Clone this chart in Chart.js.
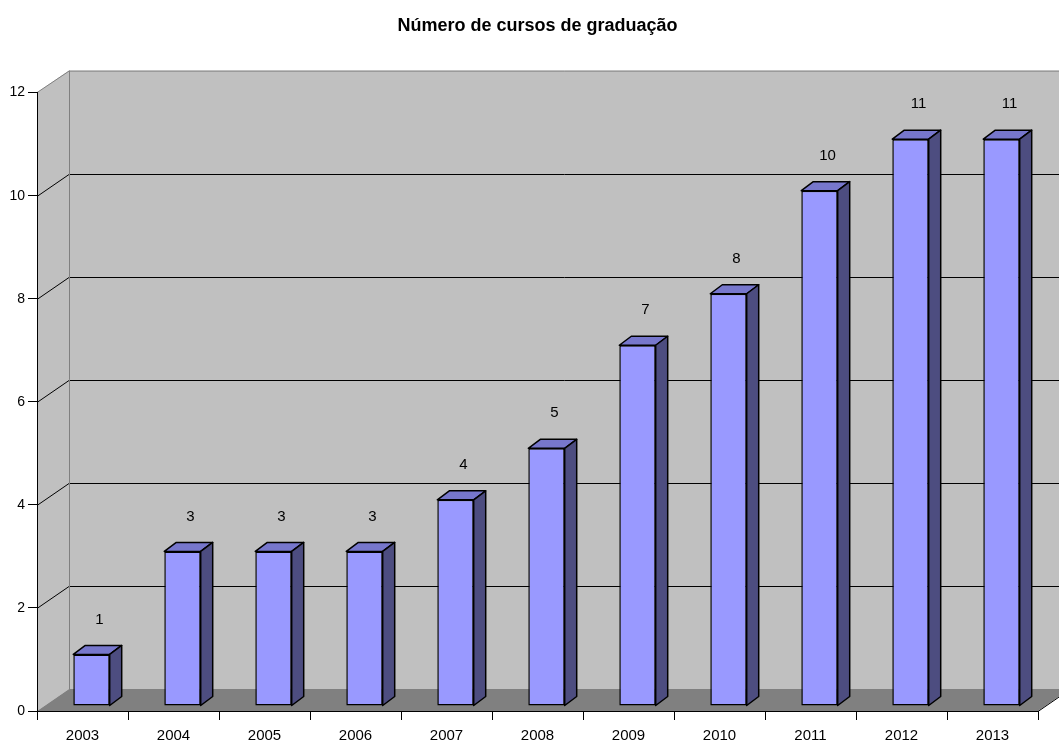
<!DOCTYPE html>
<html>
<head>
<meta charset="utf-8">
<script src="https://cdn.jsdelivr.net/npm/chart.js@4"></script>
<style>
  html, body { margin: 0; padding: 0; background: #fff; }
</style>
</head>
<body>
<canvas id="cursosChart" width="1059" height="743"></canvas>
<script>
// Dados do gráfico
const anos = ["2003", "2004", "2005", "2006", "2007", "2008", "2009", "2010", "2011", "2012", "2013"];
const cursos = [1, 3, 3, 3, 4, 5, 7, 8, 10, 11, 11];
const yTicks = [0, 2, 4, 6, 8, 10, 12];

const FONT = "'Liberation Sans', Arial, sans-serif";

// Paredes e chão em perspectiva (estilo 3D)
const wall3d = {
  id: "wall3d",
  beforeDraw(chart) {
    const { ctx, chartArea: a, scales } = chart;
    const dx = 32, dy = -22;
    ctx.save();

    // parede do fundo
    ctx.fillStyle = "#c0c0c0";
    ctx.fillRect(a.left + dx, a.top + dy, a.right - a.left, a.bottom - a.top);

    // parede lateral
    ctx.beginPath();
    ctx.moveTo(a.left, a.top);
    ctx.lineTo(a.left + dx, a.top + dy);
    ctx.lineTo(a.left + dx, a.bottom + dy);
    ctx.lineTo(a.left, a.bottom);
    ctx.closePath();
    ctx.fill();

    // chão
    ctx.fillStyle = "#808080";
    ctx.beginPath();
    ctx.moveTo(a.left, a.bottom);
    ctx.lineTo(a.left + dx, a.bottom + dy);
    ctx.lineTo(a.right + dx, a.bottom + dy);
    ctx.lineTo(a.right, a.bottom);
    ctx.closePath();
    ctx.fill();

    // linhas de grade
    ctx.lineWidth = 1;
    ctx.strokeStyle = "#000";
    yTicks.forEach((v) => {
      if (v === yTicks[0] || v === yTicks[yTicks.length - 1]) return;
      const py = Math.round(scales.y.getPixelForValue(v)) + 0.5;
      ctx.beginPath();
      ctx.moveTo(a.left, py);
      ctx.lineTo(a.left + dx, py + dy);
      ctx.lineTo(a.right + dx, py + dy);
      ctx.stroke();
    });

    // bordas cinzas
    ctx.strokeStyle = "#808080";
    ctx.beginPath();
    ctx.moveTo(a.left + dx + 0.5, a.bottom + dy);
    ctx.lineTo(a.left + dx + 0.5, a.top + dy);
    ctx.moveTo(a.left, a.top);
    ctx.lineTo(a.left + dx, a.top + dy + 0.5);
    ctx.lineTo(a.right + dx, a.top + dy + 0.5);
    ctx.stroke();

    // borda direita do chão
    ctx.strokeStyle = "#000";
    ctx.beginPath();
    ctx.moveTo(a.right, a.bottom + 0.5);
    ctx.lineTo(a.right + dx, a.bottom + dy + 0.5);
    ctx.stroke();
    ctx.restore();
  },
};

// Barras com profundidade
const bars3d = {
  id: "bars3d",
  beforeDatasetsDraw(chart) {
    const ctx = chart.ctx;
    const bdx = 12, bdy = -9;
    ctx.save();
    ctx.translate(9, -5);
    ctx.lineWidth = 1.5;
    ctx.lineJoin = "round";
    ctx.strokeStyle = "#000";
    chart.getDatasetMeta(0).data.forEach((bar) => {
      const L = bar.x - bar.width / 2;
      const R = bar.x + bar.width / 2;
      const T = bar.y;
      const B = bar.base;
      // topo
      ctx.fillStyle = "#7777cc";
      ctx.beginPath();
      ctx.moveTo(L, T);
      ctx.lineTo(L + bdx, T + bdy);
      ctx.lineTo(R + bdx, T + bdy);
      ctx.lineTo(R, T);
      ctx.closePath();
      ctx.fill();
      ctx.stroke();
      // lado
      ctx.fillStyle = "#4d4d80";
      ctx.beginPath();
      ctx.moveTo(R, T);
      ctx.lineTo(R + bdx, T + bdy);
      ctx.lineTo(R + bdx, B + bdy);
      ctx.lineTo(R, B);
      ctx.closePath();
      ctx.fill();
      ctx.stroke();
    });
  },
  afterDatasetsDraw(chart) {
    const ctx = chart.ctx;
    ctx.restore();
    ctx.save();
    ctx.fillStyle = "#000";
    ctx.font = "15px " + FONT;
    ctx.textAlign = "center";
    ctx.textBaseline = "middle";
    chart.getDatasetMeta(0).data.forEach((bar, i) => {
      ctx.fillText(String(cursos[i]), bar.x + 17, bar.y - 40);
    });
    ctx.restore();
  },
};

const ctx = document.getElementById("cursosChart").getContext("2d");
const cursosChart = new Chart(ctx, {
  type: "bar",
  data: {
    labels: anos,
    datasets: [
      {
        data: cursos,
        backgroundColor: "#9999ff",
        borderColor: "#000",
        borderWidth: 1.5,
        borderSkipped: false,
        barPercentage: 0.4,
        categoryPercentage: 1,
        clip: false,
      },
    ],
  },
  options: {
    responsive: false,
    animation: false,
    layout: { padding: { top: 0, right: 21, bottom: 0, left: 0 } },
    plugins: {
      legend: { display: false },
      tooltip: { enabled: false },
      title: {
        display: true,
        fullSize: false,
        text: "Número de cursos de graduação",
        color: "#000",
        font: { family: FONT, size: 18, weight: "bold" },
        padding: { top: 15, bottom: 56 },
      },
    },
    scales: {
      x: {
        afterFit: (scale) => { scale.height = 32; },
        grid: { offset: true, drawOnChartArea: false, tickLength: 9, color: "#000" },
        border: { color: "#000" },
        ticks: { color: "#000", font: { family: FONT, size: 15 }, padding: 7, maxRotation: 0 },
      },
      y: {
        min: 0,
        max: 12,
        afterFit: (scale) => { scale.width = 37; },
        afterBuildTicks: (scale) => { scale.ticks = yTicks.map((v) => ({ value: v })); },
        grid: { drawOnChartArea: false, tickLength: 9, color: "#000" },
        border: { color: "#000" },
        ticks: { color: "#000", font: { family: FONT, size: 14 }, padding: 3 },
      },
    },
  },
  plugins: [wall3d, bars3d],
});
</script>
</body>
</html>
